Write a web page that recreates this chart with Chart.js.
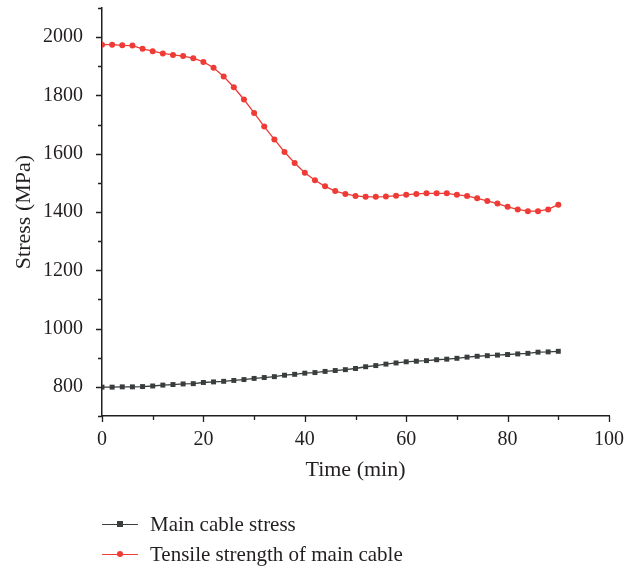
<!DOCTYPE html>
<html>
<head>
<meta charset="utf-8">
<script src="https://cdn.jsdelivr.net/npm/chart.js@4/dist/chart.umd.min.js"></script>
<style>
  html, body { margin: 0; padding: 0; background: #fff; }
  #wrap { position: relative; width: 635px; height: 567px; }
  #c { position: absolute; left: 0; top: 0; }
  #legend { position: absolute; left: 102px; top: 509px; font-family: "Liberation Serif", "DejaVu Serif", serif; font-size: 21px; color: #231f20; }
  .li { position: relative; height: 30px; line-height: 30px; padding-left: 48px; white-space: nowrap; }
  .ln { position: absolute; left: 0; top: 14.5px; width: 36px; height: 1.4px; }
  .mk { position: absolute; }
</style>
</head>
<body>
<div id="wrap">
  <canvas id="c" width="635" height="567"></canvas>
  <div id="legend"></div>
</div>
<script>
const times = [0,2,4,6,8,10,12,14,16,18,20,22,24,26,28,30,32,34,36,38,40,42,44,46,48,50,52,54,56,58,60,62,64,66,68,70,72,74,76,78,80,82,84,86,88,90];
const mainCableStress = [799,799,800,800,801,803,806,808,810,811,815,817,819,822,825,829,832,835,840,843,847,849,853,856,859,863,869,873,878,882,886,888,890,893,895,898,902,905,907,909,911,913,915,919,920,922];
const tensileStrength = [1974,1974,1972,1971,1960,1952,1944,1939,1935,1928,1915,1895,1865,1828,1786,1740,1693,1649,1606,1568,1535,1509,1488,1472,1462,1455,1452,1452,1453,1456,1459,1462,1464,1464,1464,1459,1455,1447,1438,1429,1418,1409,1403,1403,1409,1425];
const seriesLabels = ["Main cable stress", "Tensile strength of main cable"];
const xTickLabels = [0,20,40,60,80,100];
const yTickLabels = [800,1000,1200,1400,1600,1800,2000];

const FONT = "'Liberation Serif', 'DejaVu Serif', serif";
const AXIS = '#231f20';
const BLACK = '#3a3d3e';
const RED = '#ef3b36';

const tickPlugin = {
  id: 'tickMarks',
  afterDraw(chart) {
    const ctx = chart.ctx;
    const xs = chart.scales.x, ys = chart.scales.y;
    ctx.save();
    ctx.strokeStyle = AXIS;
    ctx.lineWidth = 1.3;
    ctx.beginPath();
    for (let v = xs.min; v <= xs.max; v += 10) {
      const px = Math.round(xs.getPixelForValue(v)) + 0.5;
      const len = xTickLabels.includes(v) ? 6 : 4;
      ctx.moveTo(px, xs.top); ctx.lineTo(px, xs.top + len);
    }
    for (let v = ys.min; v <= ys.max; v += 100) {
      const py = Math.round(ys.getPixelForValue(v)) + 0.5;
      const len = yTickLabels.includes(v) ? 6 : 4;
      ctx.moveTo(ys.right, py); ctx.lineTo(ys.right - len, py);
    }
    ctx.stroke();
    ctx.restore();
  }
};

const chart = new Chart(document.getElementById('c'), {
  type: 'line',
  data: {
    datasets: [
      {
        label: seriesLabels[0],
        data: times.map((t, i) => ({x: t, y: mainCableStress[i]})),
        borderColor: BLACK, backgroundColor: BLACK,
        borderWidth: 1.3, pointStyle: 'rect', pointRadius: 3.5, pointBorderWidth: 0,
        tension: 0
      },
      {
        label: seriesLabels[1],
        data: times.map((t, i) => ({x: t, y: tensileStrength[i]})),
        borderColor: RED, backgroundColor: RED,
        borderWidth: 1.3, pointStyle: 'circle', pointRadius: 3, pointBorderWidth: 0,
        tension: 0
      }
    ]
  },
  options: {
    responsive: false,
    animation: false,
    devicePixelRatio: 1,
    layout: { padding: { left: 0, top: 8, right: 26, bottom: 71 } },
    plugins: { legend: { display: false }, tooltip: { enabled: false } },
    scales: {
      x: {
        type: 'linear', min: 0, max: 100,
        afterFit(s) { s.height = 80; s.paddingLeft = 0; s.paddingRight = 0; },
        border: { display: true, color: AXIS, width: 1.5 },
        grid: { display: true, drawOnChartArea: false, drawTicks: true, tickLength: 6, tickColor: 'rgba(0,0,0,0)' },
        ticks: {
          stepSize: 10, padding: 6, color: AXIS, maxRotation: 0, autoSkip: false,
          font: { family: FONT, size: 20 },
          callback: v => xTickLabels.includes(v) ? String(v) : ''
        },
        title: { display: true, text: 'Time (min)', color: AXIS, font: { family: FONT, size: 22 }, padding: { top: 0, bottom: 13 } }
      },
      y: {
        type: 'linear', min: 700, max: 2100,
        afterFit(s) { s.width = 102; s.paddingTop = 0; s.paddingBottom = 0; },
        border: { display: true, color: AXIS, width: 1.5 },
        grid: { display: true, drawOnChartArea: false, drawTicks: true, tickLength: 6, tickColor: 'rgba(0,0,0,0)' },
        ticks: {
          stepSize: 100, padding: 13, color: AXIS, autoSkip: false,
          font: { family: FONT, size: 20 },
          callback: v => yTickLabels.includes(v) ? String(v) : ''
        },
        title: { display: true, text: 'Stress (MPa)', color: AXIS, font: { family: FONT, size: 22 }, padding: { top: 11, bottom: 0 } }
      }
    }
  },
  plugins: [tickPlugin]
});

// HTML legend built from the chart's datasets
const legend = document.getElementById('legend');
chart.data.datasets.forEach(ds => {
  const row = document.createElement('div');
  row.className = 'li';
  const ln = document.createElement('div');
  ln.className = 'ln';
  ln.style.background = ds.borderColor;
  const mk = document.createElement('div');
  mk.className = 'mk';
  if (ds.pointStyle === 'rect') {
    mk.style.cssText = 'left:15px;top:12px;width:6px;height:6px;background:' + ds.backgroundColor;
  } else {
    mk.style.cssText = 'left:15px;top:12px;width:6px;height:6px;border-radius:50%;background:' + ds.backgroundColor;
  }
  const tx = document.createElement('span');
  tx.textContent = ds.label;
  row.appendChild(ln); row.appendChild(mk); row.appendChild(tx);
  legend.appendChild(row);
});
</script>
</body>
</html>
